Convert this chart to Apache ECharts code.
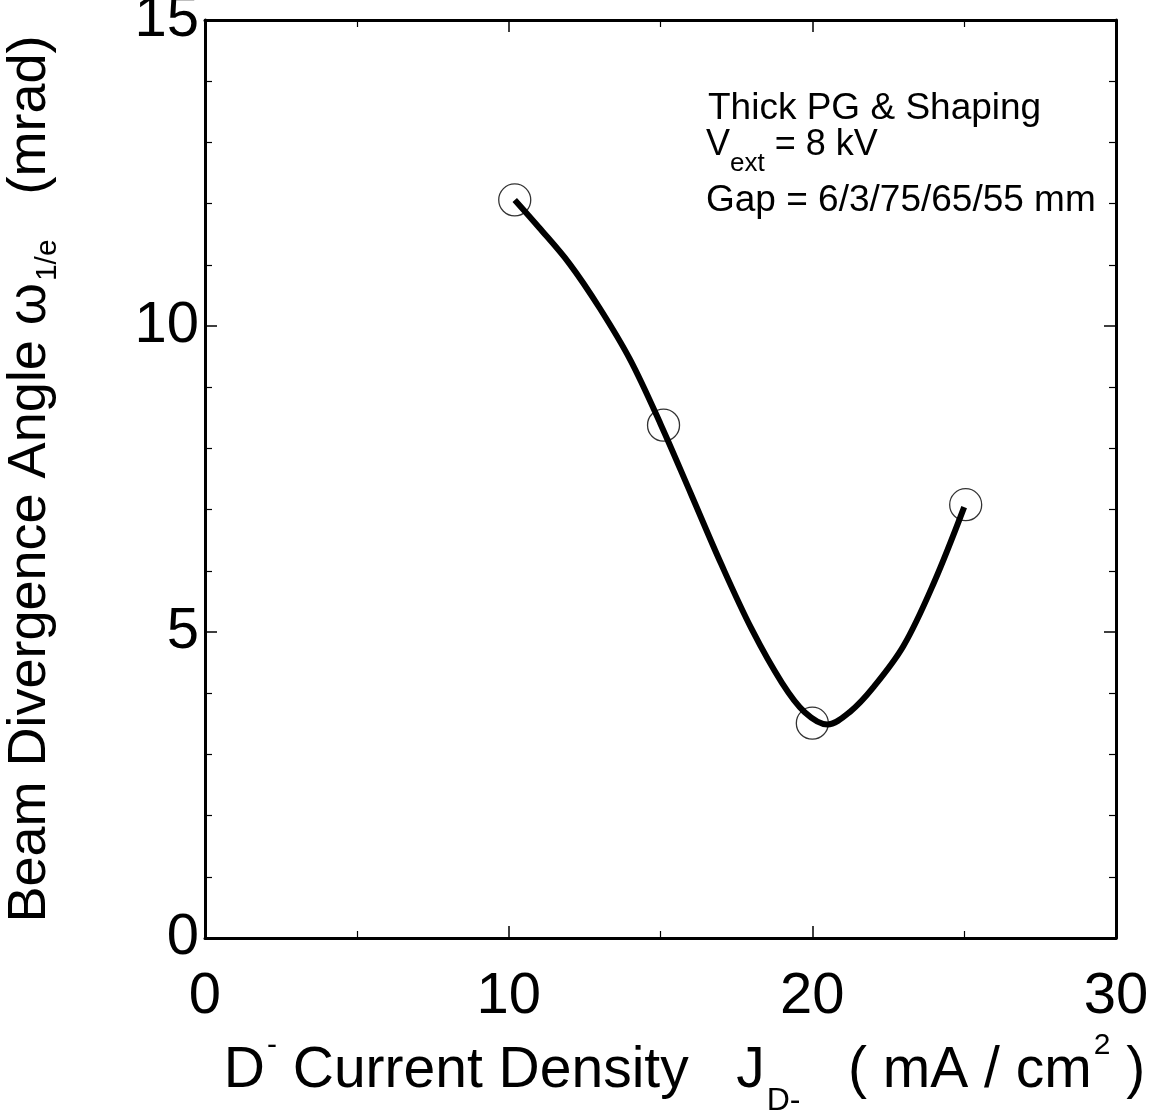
<!DOCTYPE html>
<html>
<head>
<meta charset="utf-8">
<script src="https://cdn.jsdelivr.net/npm/echarts@6/dist/echarts.min.js"></script>
<style>
html, body { margin: 0; padding: 0; background: #fff; }
#chart { width: 1162px; height: 1117px; }
</style>
</head>
<body>
<div id="chart"></div>
<script>
// axis ranges / tick labels
var xTicks = [0, 10, 20, 30];
var yTicks = [0, 5, 10, 15];

// measured points (open circles)
var pointX = [10.2, 15.1, 20.0, 25.05];
var pointY = [12.06, 8.38, 3.51, 7.08];

// fitted curve
var curveX = [10.2, 11, 12, 13, 14, 15, 16, 17, 18, 19, 19.75, 20.5, 21.25, 22, 23, 24, 25];
var curveY = [12.06, 11.61, 11.02, 10.29, 9.45, 8.40, 7.26, 6.11, 5.05, 4.17, 3.69, 3.49, 3.70, 4.09, 4.77, 5.80, 7.04];

var narrow = "'Liberation Sans Narrow', 'Liberation Sans', Arial, sans-serif";
var sans = "'Liberation Sans', Arial, sans-serif";

function zip(a, b) {
    var out = [];
    for (var i = 0; i < a.length; i++) {
        out.push([a[i], b[i]]);
    }
    return out;
}

var myChart = echarts.init(document.getElementById('chart'));

var tickStyle = {
    inside: true,
    length: 12,
    lineStyle: { color: '#000', width: 1.5 }
};
var minorStyle = {
    show: true,
    length: 7,
    lineStyle: { color: '#000', width: 1.2 }
};
var lineAxis = { show: true, onZero: false, lineStyle: { color: '#000', width: 3 } };

var option = {
    backgroundColor: '#fff',
    animation: false,
    grid: { left: 205, right: 46, top: 20, bottom: 179, outerBoundsMode: 'none' },
    xAxis: [{
        type: 'value',
        position: 'bottom',
        min: xTicks[0],
        max: xTicks[xTicks.length - 1],
        interval: 10,
        axisLine: lineAxis,
        axisTick: tickStyle,
        minorTick: echarts.util.extend({ splitNumber: 2 }, minorStyle),
        splitLine: { show: false },
        axisLabel: {
            margin: 30,
            color: '#000',
            fontSize: 58,
            fontFamily: narrow
        },
        name: '{n|D}{sup|-}{n| Current Density   J}{sub|D-}{n|   ( mA / cm}{sup|2}{n| )}',
        nameLocation: 'middle',
        nameGap: 86,
        nameTextStyle: {
            color: '#000',
            padding: [0, 0, 0, 48],
            rich: {
                n: { fontSize: 57, fontFamily: narrow, color: '#000' },
                sup: { fontSize: 30, fontFamily: narrow, color: '#000', padding: [0, 0, 50, 2] },
                sub: { fontSize: 32, fontFamily: narrow, color: '#000', padding: [60, 0, 0, 2] }
            }
        }
    }, {
        type: 'value',
        position: 'top',
        min: xTicks[0],
        max: xTicks[xTicks.length - 1],
        interval: 10,
        axisLine: lineAxis,
        axisTick: tickStyle,
        minorTick: echarts.util.extend({ splitNumber: 2 }, minorStyle),
        splitLine: { show: false },
        axisLabel: { show: false }
    }],
    yAxis: [{
        type: 'value',
        position: 'left',
        min: yTicks[0],
        max: yTicks[yTicks.length - 1],
        interval: 5,
        axisLine: lineAxis,
        axisTick: tickStyle,
        minorTick: echarts.util.extend({ splitNumber: 5 }, minorStyle),
        splitLine: { show: false },
        axisLabel: {
            margin: 6,
            color: '#000',
            fontSize: 58,
            fontFamily: sans
        },
        name: '{n|Beam Divergence Angle }{w|ω}{sub|1/e}{n|   (mrad)}',
        nameLocation: 'middle',
        nameRotate: 90,
        nameGap: 142,
        nameTextStyle: {
            color: '#000',
            rich: {
                n: { fontSize: 54, fontFamily: narrow, color: '#000' },
                w: { fontSize: 54, fontFamily: sans, color: '#000' },
                sub: { fontSize: 30, fontFamily: narrow, color: '#000', padding: [36, 0, 0, 2] }
            }
        }
    }, {
        type: 'value',
        position: 'right',
        min: yTicks[0],
        max: yTicks[yTicks.length - 1],
        interval: 5,
        axisLine: lineAxis,
        axisTick: tickStyle,
        minorTick: echarts.util.extend({ splitNumber: 5 }, minorStyle),
        splitLine: { show: false },
        axisLabel: { show: false }
    }],
    graphic: [{
        type: 'text',
        left: 708,
        top: 90,
        style: {
            text: 'Thick PG & Shaping',
            font: '37px ' + sans,
            fill: '#000'
        }
    }, {
        type: 'text',
        left: 706,
        top: 127,
        style: {
            text: '{n|V}{sub|ext}{n| = 8 kV}',
            fill: '#000',
            rich: {
                n: { fontSize: 36, fontFamily: sans, color: '#000' },
                sub: { fontSize: 26, fontFamily: sans, color: '#000', padding: [38, 0, 0, 0] }
            }
        }
    }, {
        type: 'text',
        left: 706,
        top: 182,
        style: {
            text: 'Gap = 6/3/75/65/55 mm',
            font: '37px ' + sans,
            fill: '#000'
        }
    }],
    series: [{
        name: 'fit',
        type: 'line',
        data: zip(curveX, curveY),
        smooth: 0.35,
        showSymbol: false,
        symbol: 'none',
        lineStyle: { color: '#000', width: 6 },
        z: 2
    }, {
        name: 'measured',
        type: 'scatter',
        data: zip(pointX, pointY),
        symbol: 'circle',
        symbolSize: 32,
        itemStyle: {
            color: 'rgba(0,0,0,0)',
            borderColor: '#000',
            borderWidth: 1.3
        },
        z: 3
    }]
};

myChart.setOption(option);
</script>
</body>
</html>
